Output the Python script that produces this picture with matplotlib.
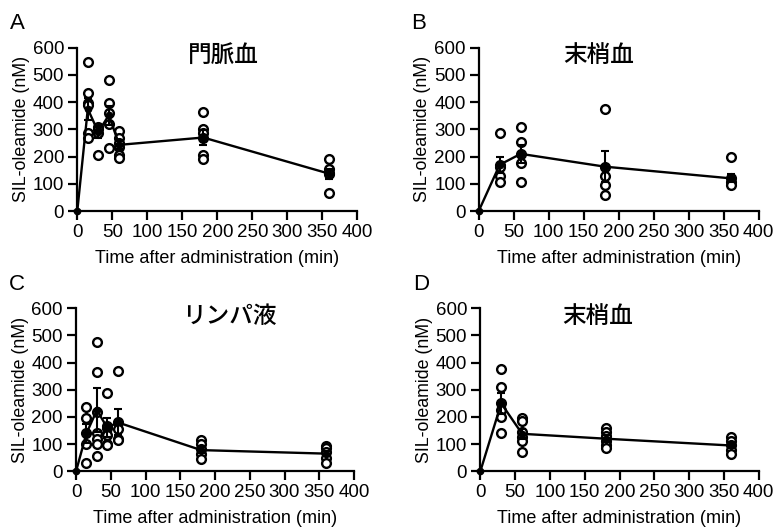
import matplotlib
matplotlib.use('Agg')
import matplotlib.pyplot as plt

plt.rcParams['font.family'] = ['Liberation Sans', 'Noto Sans CJK JP', 'DejaVu Sans']

# A 門脈血
a_time = [0, 15, 30, 45, 60, 180, 360]
a_mean = [0, 375, 290, 352, 243, 270, 137]
a_sem = [0, 42, 20, 35, 15, 28, 18]
a_points = {15: [548, 435, 395, 390, 288, 270],
            30: [308, 300, 285, 205],
            45: [480, 395, 360, 320, 230],
            60: [295, 270, 250, 235, 205, 195],
            180: [365, 302, 285, 270, 205, 190],
            360: [190, 155, 140, 135, 65]}

# B 末梢血
b_time = [0, 30, 60, 180, 360]
b_mean = [0, 170, 210, 163, 120]
b_sem = [0, 30, 32, 57, 15]
b_points = {30: [285, 170, 160, 130, 105],
            60: [310, 255, 210, 175, 105],
            180: [375, 160, 130, 95, 60],
            360: [200, 120, 105, 95]}

# C リンパ液
c_time = [0, 15, 30, 45, 60, 180, 360]
c_mean = [0, 140, 225, 160, 180, 78, 65]
c_sem = [0, 35, 80, 35, 48, 12, 10]
c_points = {15: [238, 197, 140, 100, 32],
            30: [475, 365, 220, 140, 120, 100, 57],
            45: [290, 168, 160, 135, 100, 95],
            60: [370, 180, 155, 120, 115],
            180: [115, 100, 82, 62, 47],
            360: [92, 85, 70, 48, 30]}

# D 末梢血
d_time = [0, 30, 60, 180, 360]
d_mean = [0, 250, 138, 120, 95]
d_sem = [0, 40, 18, 12, 10]
d_points = {30: [375, 310, 250, 225, 200, 140],
            60: [195, 185, 145, 125, 110, 70],
            180: [160, 145, 130, 110, 95, 85],
            360: [125, 110, 95, 80, 65]}

panels = [
    ('A', '門脈血', a_time, a_mean, a_sem, a_points, [0.0996, 0.5996, 0.3608, 0.3099], 0.52),
    ('B', '末梢血', b_time, b_mean, b_sem, b_points, [0.6169, 0.5996, 0.3608, 0.3099], 0.43),
    ('C', 'リンパ液', c_time, c_mean, c_sem, c_points, [0.0980, 0.1057, 0.3582, 0.3093], 0.55),
    ('D', '末梢血', d_time, d_mean, d_sem, d_points, [0.6190, 0.1057, 0.3587, 0.3093], 0.42),
]

fig = plt.figure(figsize=(7.76, 5.27), dpi=100)

for letter, title, t, m, s, pts, rect, tx in panels:
    ax = fig.add_axes(rect)
    for x, vals in pts.items():
        ax.plot([x] * len(vals), vals, 'o', mfc='white', mec='black', mew=1.7,
                ms=6.3, zorder=3, clip_on=False)
    ax.errorbar(t, m, yerr=s, color='black', lw=1.7, marker='o', ms=4.5,
                capsize=3, capthick=1.5, elinewidth=1.5, zorder=4, clip_on=False)
    ax.set_xlim(0, 400)
    ax.set_ylim(0, 600)
    ax.set_xticks(range(0, 401, 50))
    ax.set_yticks(range(0, 601, 100))
    for sp in ['top', 'right']:
        ax.spines[sp].set_visible(False)
    for sp in ['left', 'bottom']:
        ax.spines[sp].set_linewidth(1.6)
    ax.tick_params(width=1.6, length=6.5, labelsize=13.5, pad=3)
    ax.set_xlabel('Time after administration (min)', fontsize=13, labelpad=6)
    ax.set_ylabel('SIL-oleamide (nM)', fontsize=12.8, labelpad=2)
    ax.text(tx, 0.95, title, transform=ax.transAxes, ha='center', va='center',
            fontsize=17, fontweight='medium', family=['Noto Sans CJK JP'])
    fig.text(rect[0] - 0.087, rect[1] + rect[3] + 0.045, letter, fontsize=16,
             ha='left', va='center')

fig.savefig('out.png', dpi=100)
